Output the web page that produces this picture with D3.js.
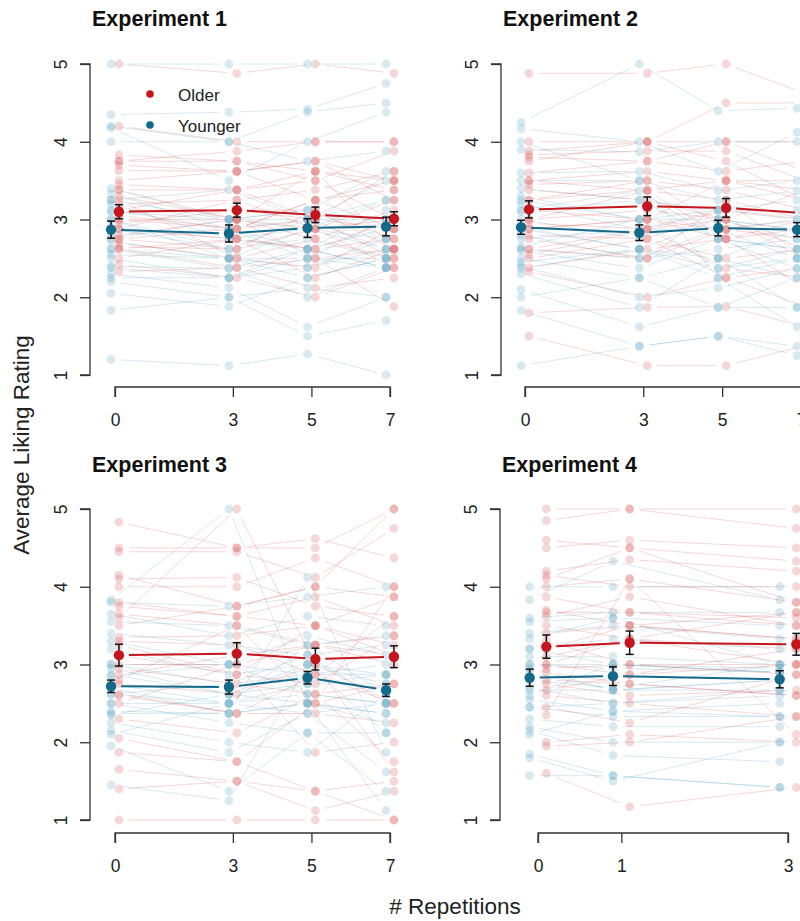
<!DOCTYPE html>
<html>
<head>
<meta charset="utf-8">
<script src="https://cdn.jsdelivr.net/npm/d3@7"></script>
<style>
  body { margin: 0; background: #fff; }
  svg { display: block; font-family: "Liberation Sans", Arial, Helvetica, sans-serif; }
</style>
</head>
<body>
<svg id="chart" width="800" height="921"></svg>
<script>
// ---------------- DATA ----------------
const experiments = ["Experiment 1", "Experiment 2", "Experiment 3", "Experiment 4"];
const repetitions = [[0, 3, 5, 7], [0, 3, 5, 7], [0, 3, 5, 7], [0, 1, 3]];
const yTicks = [1, 2, 3, 4, 5];
const groups = ["Older", "Younger"];

const olderMeans   = [[3.10, 3.12, 3.06, 3.01], [3.13, 3.17, 3.15, 3.08], [3.12, 3.14, 3.07, 3.10], [3.23, 3.28, 3.26]];
const olderSE      = [[0.09, 0.09, 0.10, 0.09], [0.11, 0.12, 0.12, 0.11], [0.14, 0.14, 0.14, 0.14], [0.15, 0.15, 0.14]];
const youngerMeans = [[2.87, 2.82, 2.89, 2.91], [2.90, 2.83, 2.89, 2.87], [2.72, 2.71, 2.83, 2.67], [2.83, 2.85, 2.81]];
const youngerSE    = [[0.11, 0.11, 0.12, 0.12], [0.09, 0.10, 0.10, 0.09], [0.08, 0.09, 0.08, 0.08], [0.11, 0.12, 0.11]];

// individual participants (one row per participant, values per repetition level)
const olderExp1 = [
  [5.00,4.88,5.00,4.88],[4.20,4.00,4.00,4.00],[3.83,3.75,3.62,3.50],[3.75,3.75,3.50,3.88],
  [3.75,3.88,4.00,4.00],[3.63,3.62,3.25,3.38],[3.45,3.38,3.00,3.62],[3.38,3.38,3.50,3.00],
  [3.30,3.00,3.62,2.62],[3.20,3.25,2.88,3.00],[3.12,3.12,3.00,2.88],[3.05,2.88,3.25,3.50],
  [3.00,3.00,2.75,3.12],[2.95,3.12,3.12,2.75],[2.88,2.75,2.62,3.00],[2.80,3.00,2.50,2.62],
  [2.75,2.88,3.00,2.50],[2.70,2.50,2.38,2.88],[2.65,2.62,2.88,2.38],[2.62,2.38,2.12,2.25],
  [2.50,2.75,2.25,2.62],[2.42,2.25,2.00,2.38],[2.33,2.38,2.50,1.88],[3.50,3.62,3.75,3.25],
  [2.88,3.25,3.38,3.62],[3.25,2.50,2.75,2.50],[3.70,3.62,3.75,3.50],[3.00,2.88,3.25,2.88],
  [2.62,2.75,2.62,2.75],[3.38,3.00,2.88,3.25],[2.75,2.62,3.12,2.62],[3.12,3.38,3.62,3.38]
];
const youngerExp1 = [
  [5.00,5.00,5.00,5.00],[4.35,4.38,4.42,4.75],[4.20,4.00,4.38,4.50],[4.18,3.50,4.00,4.38],
  [4.00,4.00,3.75,3.88],[3.40,3.00,3.12,3.62],[3.33,2.88,3.00,3.50],[3.25,3.00,2.88,3.25],
  [3.20,2.75,2.62,3.12],[3.10,3.00,3.12,2.75],[3.00,2.50,2.50,3.00],[2.90,2.75,2.88,2.62],
  [2.80,2.88,2.50,2.50],[2.72,2.50,2.38,2.75],[2.62,2.37,2.62,2.38],[2.55,2.50,2.25,2.50],
  [2.50,2.25,2.38,2.62],[2.40,2.37,2.00,2.38],[2.30,2.12,1.62,2.00],[2.25,2.25,2.50,2.38],
  [2.20,2.00,1.50,1.70],[2.05,1.88,2.25,2.50],[1.83,2.00,2.12,2.00],[1.20,1.12,1.27,1.00],
  [2.75,3.00,3.00,3.00],[3.00,2.62,2.75,2.50],[3.12,2.88,2.62,2.88],[2.62,2.50,2.88,2.75],
  [2.88,2.62,3.00,2.62],[2.38,2.25,2.62,2.38],[3.25,3.38,3.00,3.25]
];
const olderExp2 = [
  [4.88,4.88,5.00,4.62],[4.00,4.00,4.00,4.00],[3.88,4.00,4.50,4.50],[3.83,3.88,3.88,3.50],
  [3.80,3.75,4.00,3.62],[3.75,4.00,3.75,3.25],[3.50,3.62,3.50,3.38],[3.45,3.50,3.38,3.12],
  [3.38,3.25,3.00,2.62],[3.25,3.50,2.88,3.00],[3.12,3.00,3.50,3.25],[3.00,3.37,2.75,2.88],
  [2.95,2.88,3.12,3.00],[2.88,3.00,2.87,2.75],[2.80,2.75,2.50,2.62],[2.75,2.50,3.25,2.50],
  [2.55,2.87,2.37,2.25],[2.50,2.75,2.25,2.38],[2.38,2.62,2.75,2.12],[2.33,2.00,2.25,1.88],
  [1.80,1.87,1.88,1.62],[1.50,1.12,1.12,1.38],[3.60,3.75,3.62,3.75],[3.00,3.12,3.00,3.38],
  [2.62,2.50,2.87,2.88],[3.25,3.38,3.50,3.50],[2.88,3.00,2.75,3.00],[3.50,3.37,3.25,3.00],
  [2.62,2.88,3.00,2.50]
];
const youngerExp2 = [
  [4.25,5.00,4.40,4.43],[4.17,4.00,3.62,4.12],[3.90,3.87,4.00,4.00],[3.60,3.62,3.37,3.50],
  [3.50,3.50,3.25,3.37],[3.40,3.25,3.12,3.00],[3.30,3.00,3.00,2.87],[3.20,2.87,2.87,3.00],
  [3.10,3.25,2.75,2.62],[3.00,2.75,3.00,2.75],[2.90,2.62,2.50,2.87],[2.80,2.50,2.87,2.50],
  [2.65,3.00,2.37,2.62],[2.60,2.37,2.75,2.37],[2.50,2.25,2.50,2.25],[2.45,2.62,2.25,2.50],
  [2.40,2.00,2.12,2.37],[2.30,1.87,2.50,1.87],[2.10,1.62,1.87,2.25],[2.00,2.25,1.87,1.87],
  [1.83,1.37,1.50,1.37],[1.12,1.37,1.50,1.25],[4.00,3.50,2.25,1.62],[2.75,2.87,3.12,3.25],
  [3.25,3.00,3.12,3.12],[2.62,2.50,2.62,2.75],[2.88,2.62,3.00,2.87],[3.12,3.37,2.75,2.62],
  [2.37,2.62,2.37,2.50]
];
const olderExp3 = [
  [4.83,4.50,4.62,4.37],[4.50,4.50,4.50,5.00],[4.45,4.45,4.12,4.75],[4.15,3.75,4.00,3.87],
  [4.10,4.12,3.75,3.62],[4.00,4.00,4.37,4.00],[3.80,3.62,3.87,3.50],[3.65,3.50,3.25,3.37],
  [3.60,5.00,3.00,2.50],[3.35,3.37,3.50,3.12],[3.30,3.25,2.87,3.62],[3.00,3.00,3.25,3.00],
  [2.95,2.75,2.62,2.75],[2.80,3.50,2.50,4.00],[2.75,2.62,3.00,1.62],[2.60,2.37,2.37,2.25],
  [2.50,3.00,1.87,2.00],[2.30,2.12,2.62,1.75],[2.05,1.75,1.37,1.50],[1.87,1.75,2.50,2.75],
  [1.65,1.50,1.12,1.37],[1.40,1.50,1.37,1.00],[1.00,1.00,1.00,1.00],[3.50,3.75,4.00,5.00],
  [3.12,2.87,3.50,3.25],[3.75,3.62,3.50,3.87],[2.87,3.12,3.25,3.12],[3.25,2.87,2.75,3.37],
  [2.62,2.37,2.87,2.50]
];
const youngerExp3 = [
  [3.83,5.00,2.50,1.12],[3.80,3.75,3.87,4.00],[3.65,3.37,3.62,3.50],[3.55,3.50,3.25,3.37],
  [3.40,3.25,3.12,3.25],[3.30,3.00,3.37,3.12],[3.20,2.87,3.00,2.87],[3.00,2.75,2.87,3.00],
  [2.95,2.62,2.75,2.75],[2.85,3.00,2.62,2.50],[2.75,2.50,3.25,2.62],[2.70,2.37,2.50,2.37],
  [2.62,2.50,2.37,2.50],[2.50,2.25,2.12,2.12],[2.40,2.37,4.12,1.87],[2.35,2.62,2.50,2.37],
  [2.25,2.00,1.87,2.62],[2.15,1.87,2.37,1.62],[2.10,2.50,2.75,2.87],[1.95,1.37,2.12,1.37],
  [1.45,1.25,3.00,2.12],[2.62,2.75,3.12,2.50],[2.87,2.62,3.00,2.75],[2.50,2.50,2.62,2.50],
  [3.00,3.00,2.87,2.87],[2.37,2.37,2.50,2.25]
];
const olderExp4 = [
  [5.00,5.00,5.00],[4.85,5.00,4.75],[4.60,4.50,4.33],[4.50,4.60,4.50],[4.20,4.35,4.20],
  [4.15,4.00,4.00],[4.10,4.50,3.80],[3.87,3.67,3.60],[3.70,3.50,3.33],[3.62,3.87,3.50],
  [3.50,3.33,3.67],[3.30,3.00,3.00],[3.00,2.87,3.20],[2.95,3.00,2.87],[2.80,2.75,2.60],
  [2.75,2.60,2.67],[2.60,2.50,2.33],[2.45,2.25,2.87],[2.35,4.10,2.10],[2.00,2.10,2.00],
  [1.95,2.00,2.33],[1.60,1.17,1.42],[3.40,3.50,3.67],[3.10,3.33,3.00],[2.90,2.75,2.60],
  [3.67,3.67,3.50],[3.20,3.50,3.33],[2.67,2.87,3.00],[3.00,3.33,3.20],[4.00,4.10,3.80]
];
const youngerExp4 = [
  [4.00,4.00,4.00],[3.83,4.33,3.83],[3.60,3.67,3.67],[3.55,3.60,3.50],[3.40,3.50,3.33],
  [3.20,3.33,3.20],[3.10,3.10,3.00],[3.00,2.95,2.90],[2.95,2.67,2.80],[2.80,2.70,3.00],
  [2.70,2.50,2.67],[2.55,2.40,2.50],[2.45,2.33,2.33],[2.30,2.20,2.20],[2.20,2.00,2.00],
  [2.15,1.83,1.75],[1.85,1.57,1.42],[1.80,1.50,2.00],[1.57,1.57,1.42],[2.90,2.67,2.80],
  [2.60,3.00,2.90],[3.00,3.00,2.90],[2.67,2.67,2.67],[3.33,3.60,3.00],[2.45,2.50,2.60],
  [3.20,3.00,2.95],[2.10,2.40,2.33]
];
const olderIndividuals = [olderExp1, olderExp2, olderExp3, olderExp4];
const youngerIndividuals = [youngerExp1, youngerExp2, youngerExp3, youngerExp4];

// ---------------- LAYOUT ----------------
const layout = [
  { axisX: 90,  x0: 115, x1: 390, top: 64,  bottom: 375, xAxisY: 387, titleY: 26 },
  { axisX: 501, x0: 525, x1: 801, top: 64,  bottom: 375, xAxisY: 387, titleY: 26 },
  { axisX: 90,  x0: 115, x1: 390, top: 509, bottom: 820, xAxisY: 833, titleY: 472 },
  { axisX: 500, x0: 538, x1: 788, top: 509, bottom: 820, xAxisY: 833, titleY: 472 }
];
const colOlder = "#c4161c", colYounger = "#12698a";
const indOlder = "#d84a4a", indYounger = "#4a9bbf";
const offset = { Older: 0.1, Younger: -0.1 };
const GAP = 10;

const svg = d3.select("#chart");
const font = '"Liberation Sans", Arial, Helvetica, sans-serif';

function gapSegments(pts) {
  const segs = [];
  for (let i = 0; i < pts.length - 1; i++) {
    const [ax, ay] = pts[i], [bx, by] = pts[i + 1];
    const dx = bx - ax, dy = by - ay, L = Math.hypot(dx, dy);
    if (L <= 2 * GAP) continue;
    const ux = dx / L, uy = dy / L;
    segs.push([ax + ux * GAP, ay + uy * GAP, bx - ux * GAP, by - uy * GAP]);
  }
  return segs;
}

experiments.forEach((title, e) => {
  const L = layout[e];
  const reps = repetitions[e];
  const xMax = reps[reps.length - 1];
  const x = d3.scaleLinear().domain([0, xMax]).range([L.x0, L.x1]);
  const y = d3.scaleLinear().domain([1, 5]).range([L.bottom, L.top]);
  const g = svg.append("g");

  // title
  g.append("text").attr("x", L.axisX + 2).attr("y", L.titleY)
    .attr("font-size", 21.5).attr("font-weight", "bold").attr("fill", "#111").text(title);

  // y axis
  const yAxis = d3.axisLeft(y).tickValues(yTicks).tickSize(10).tickFormat(d3.format("d"));
  const ya = g.append("g").attr("transform", `translate(${L.axisX},0)`).call(yAxis);
  ya.select(".domain").attr("d", `M-10,${y(1)}H0V${y(5)}H-10`).attr("stroke", "#333")
    .attr("stroke-width", 1.3).attr("fill", "none");
  ya.selectAll(".tick line").attr("stroke", "#333").attr("stroke-width", 1.3);
  ya.selectAll(".tick text").attr("font-size", 17.5).attr("font-family", font).attr("fill", "#222")
    .attr("x", 0).attr("y", 0).attr("dy", 0).attr("text-anchor", "middle")
    .attr("transform", "translate(-23,0) rotate(-90)");

  // x axis
  const xAxis = d3.axisBottom(x).tickValues(reps).tickSize(10).tickSizeOuter(0).tickFormat(d3.format("d"));
  const xa = g.append("g").attr("transform", `translate(0,${L.xAxisY})`).call(xAxis);
  xa.select(".domain").attr("d", `M${x(0)},10V0H${x(xMax)}V10`).attr("stroke", "#333")
    .attr("stroke-width", 1.3).attr("fill", "none");
  xa.selectAll(".tick line").attr("stroke", "#333").attr("stroke-width", 1.3);
  xa.selectAll(".tick text").attr("font-size", 17.5).attr("font-family", font).attr("fill", "#222")
    .attr("y", 27).attr("dy", "0.71em");

  // individual participants
  const sets = [
    { name: "Younger", rows: youngerIndividuals[e], col: indYounger },
    { name: "Older", rows: olderIndividuals[e], col: indOlder }
  ];
  const lineLayer = g.append("g");
  const ptLayer = g.append("g");
  sets.forEach(s => {
    s.rows.forEach(row => {
      const pts = row.map((v, i) => [x(reps[i] + offset[s.name]), y(v)]);
      gapSegments(pts).forEach(sg => {
        lineLayer.append("line").attr("x1", sg[0]).attr("y1", sg[1]).attr("x2", sg[2]).attr("y2", sg[3])
          .attr("stroke", s.col).attr("stroke-opacity", 0.22).attr("stroke-width", 1);
      });
      ptLayer.selectAll(null).data(row).enter().append("circle")
        .attr("cx", (v, i) => x(reps[i] + offset[s.name]))
        .attr("cy", v => y(v)).attr("r", 4.4)
        .attr("fill", s.col).attr("fill-opacity", 0.22);
    });
  });

  // means
  const meanSets = [
    { name: "Older", m: olderMeans[e], se: olderSE[e], col: colOlder },
    { name: "Younger", m: youngerMeans[e], se: youngerSE[e], col: colYounger }
  ];
  meanSets.forEach(s => {
    const pts = s.m.map((v, i) => [x(reps[i] + offset[s.name]), y(v)]);
    gapSegments(pts).forEach(sg => {
      g.append("line").attr("x1", sg[0]).attr("y1", sg[1]).attr("x2", sg[2]).attr("y2", sg[3])
        .attr("stroke", s.col).attr("stroke-width", 2);
    });
  });
  meanSets.forEach(s => {
    s.m.forEach((v, i) => {
      const cx = x(reps[i] + offset[s.name]);
      const yt = y(v + s.se[i]), yb = y(v - s.se[i]);
      g.append("line").attr("x1", cx).attr("x2", cx).attr("y1", yt).attr("y2", yb)
        .attr("stroke", "#111").attr("stroke-width", 1.5);
      [yt, yb].forEach(yy => g.append("line").attr("x1", cx - 4).attr("x2", cx + 4)
        .attr("y1", yy).attr("y2", yy).attr("stroke", "#111").attr("stroke-width", 1.5));
      g.append("circle").attr("cx", cx).attr("cy", y(v)).attr("r", 5.2).attr("fill", s.col);
    });
  });

  // legend (first panel)
  if (e === 0) {
    const leg = g.append("g");
    groups.forEach((name, k) => {
      const yy = 94 + k * 31;
      leg.append("circle").attr("cx", 150).attr("cy", yy).attr("r", 3.8)
        .attr("fill", name === "Older" ? colOlder : colYounger);
      leg.append("text").attr("x", 178).attr("y", yy + 6.5).attr("font-size", 17)
        .attr("fill", "#222").text(name);
    });
  }
});

// axis titles
svg.append("text").attr("transform", "translate(29,445) rotate(-90)")
  .attr("text-anchor", "middle").attr("font-size", 22.5).attr("fill", "#222").text("Average Liking Rating");
svg.append("text").attr("x", 455).attr("y", 914)
  .attr("text-anchor", "middle").attr("font-size", 22.5).attr("fill", "#222").text("# Repetitions");
</script>
</body>
</html>
